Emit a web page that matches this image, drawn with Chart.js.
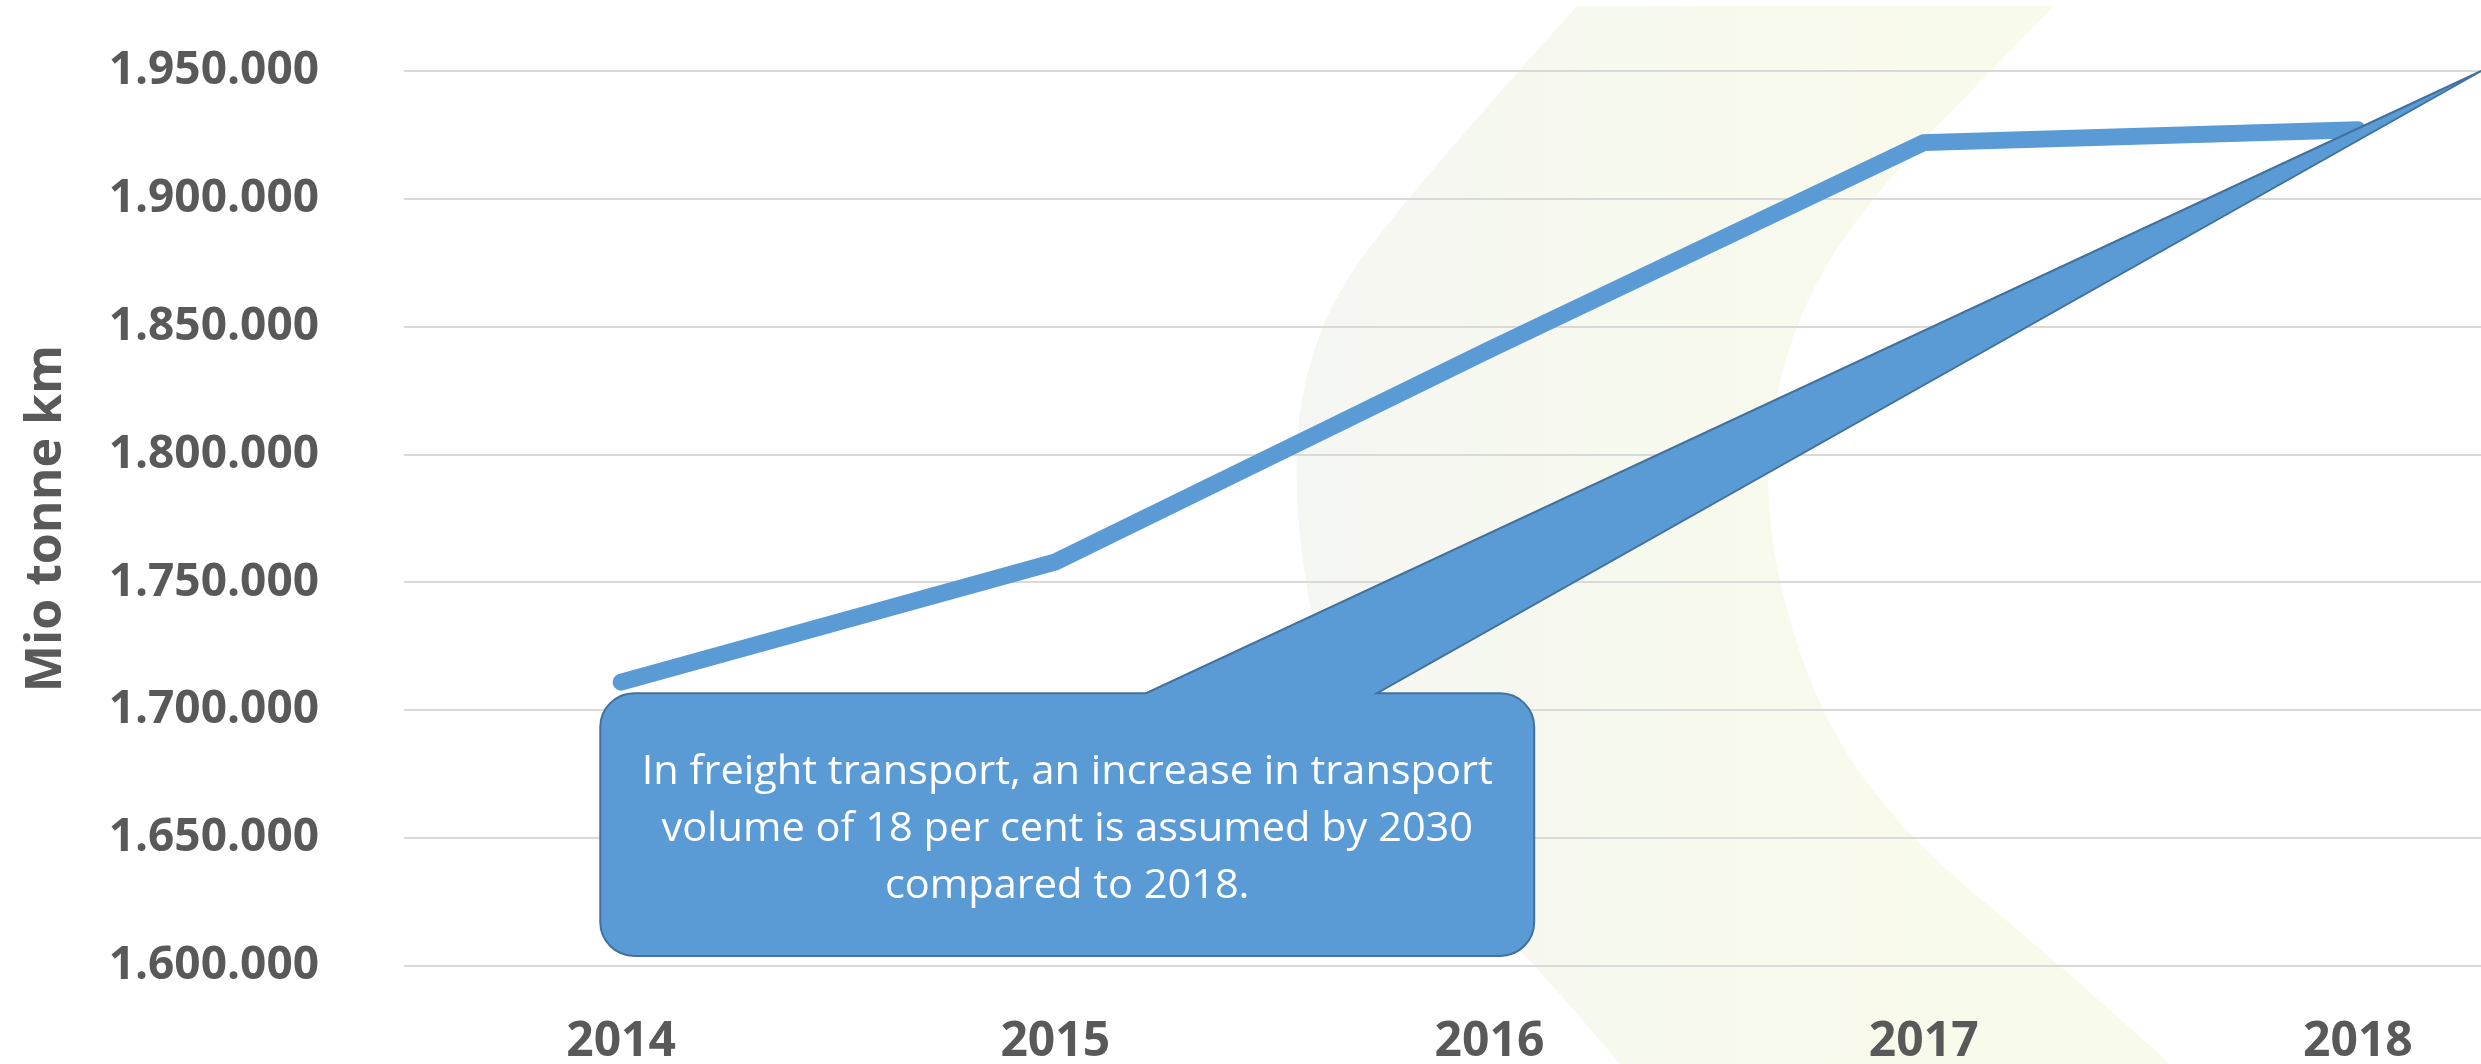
<!DOCTYPE html>
<html>
<head>
<meta charset="utf-8">
<script src="https://cdn.jsdelivr.net/npm/chart.js@4.4.1/dist/chart.umd.min.js"></script>
<style>
  html, body { margin: 0; padding: 0; background: #fff; overflow: hidden; }
  #wrap { width: 2481px; height: 1064px; overflow: hidden; position: relative; }
  #chart { display: block; }
</style>
</head>
<body>
<div id="wrap"><canvas id="chart" width="2600" height="1064"></canvas></div>
<script>
// data
var years = ['2014', '2015', '2016', '2017', '2018'];
var tonneKm = [1711000, 1758000, 1841000, 1922000, 1927000];
var yMin = 1600000;
var yMax = 1950000;
var yStep = 50000;
var yTitle = 'Mio tonne km';
var noteLines = [
    'In freight transport, an increase in transport',
    'volume of 18 per cent is assumed by 2030',
    'compared to 2018.'
];

// callout box, in axis units (category index / value)
var note = { left: -0.048, right: 2.103, top: 1706700, bottom: 1603900,
             base1: 1.209, base2: 1.741, tipX: 4.284, tipY: 1950000 };

// outline of the faint logo in the background (canvas px)
var logoOuter = [[1577, 6], [1402, 200], [1310, 333], [1289, 500], [1340, 760], [1537, 967], [1620, 1064]];
var logoInner = [[2054, 6], [1865, 200], [1787, 333], [1759, 500], [1810, 700], [1901, 833], [2063, 967], [2170, 1064]];

var grey = '#595959';
var blue = '#5B9BD5';

function fmt(v) {
    return String(v).replace(/\B(?=(\d{3})+(?!\d))/g, '.');
}

function smooth(ctx, pts, first) {
    if (first) ctx.moveTo(pts[0][0], pts[0][1]);
    else ctx.lineTo(pts[0][0], pts[0][1]);
    for (var i = 1; i < pts.length - 1; i++) {
        var mx = (pts[i][0] + pts[i + 1][0]) / 2, my = (pts[i][1] + pts[i + 1][1]) / 2;
        ctx.quadraticCurveTo(pts[i][0], pts[i][1], mx, my);
    }
    var last = pts[pts.length - 1];
    ctx.lineTo(last[0], last[1]);
}

var backdrop = {
    id: 'backdrop',
    beforeDraw: function (chart) {
        var ctx = chart.ctx;
        ctx.save();
        ctx.fillStyle = '#fff';
        ctx.fillRect(0, 0, chart.width, chart.height);
        var g = ctx.createLinearGradient(1290, 0, 1900, 0);
        g.addColorStop(0, 'rgba(242,244,238,0.8)');
        g.addColorStop(0.5, 'rgba(245,248,236,0.85)');
        g.addColorStop(1, 'rgba(247,249,232,0.85)');
        ctx.beginPath();
        smooth(ctx, logoOuter, true);
        smooth(ctx, logoInner.slice().reverse(), false);
        ctx.closePath();
        ctx.fillStyle = g;
        ctx.fill();
        ctx.restore();
    }
};

var callout = {
    id: 'callout',
    afterDatasetsDraw: function (chart) {
        var ctx = chart.ctx, xs = chart.scales.x, ys = chart.scales.y;
        var l = xs.getPixelForValue(note.left), r = xs.getPixelForValue(note.right);
        var t = ys.getPixelForValue(note.top), b = ys.getPixelForValue(note.bottom);
        var p1 = xs.getPixelForValue(note.base1), p2 = xs.getPixelForValue(note.base2);
        var tx = xs.getPixelForValue(note.tipX), ty = ys.getPixelForValue(note.tipY);
        var rad = 34;
        ctx.save();
        ctx.beginPath();
        ctx.moveTo(l + rad, t);
        ctx.lineTo(p1, t);
        ctx.lineTo(tx, ty);
        ctx.lineTo(p2, t);
        ctx.lineTo(r - rad, t);
        ctx.arcTo(r, t, r, t + rad, rad);
        ctx.lineTo(r, b - rad);
        ctx.arcTo(r, b, r - rad, b, rad);
        ctx.lineTo(l + rad, b);
        ctx.arcTo(l, b, l, b - rad, rad);
        ctx.lineTo(l, t + rad);
        ctx.arcTo(l, t, l + rad, t, rad);
        ctx.closePath();
        ctx.fillStyle = blue;
        ctx.fill();
        ctx.lineWidth = 2;
        ctx.strokeStyle = '#41719C';
        ctx.stroke();

        ctx.font = '40px "Open Sans"';
        ctx.fillStyle = '#fff';
        ctx.textAlign = 'center';
        ctx.textBaseline = 'alphabetic';
        var cx = (l + r) / 2, cy = (t + b) / 2;
        var w = ctx.measureText(noteLines[0]).width;
        var s = 851 / w;
        for (var i = 0; i < noteLines.length; i++) {
            ctx.save();
            ctx.translate(cx, cy + 16 + (i - 1) * 57);
            ctx.scale(s, 1);
            ctx.fillText(noteLines[i], 0, 0);
            ctx.restore();
        }
        ctx.restore();
    }
};

function draw() {
    var ctx = document.getElementById('chart').getContext('2d');
    new Chart(ctx, {
        type: 'line',
        data: {
            labels: years,
            datasets: [{
                label: yTitle,
                data: tonneKm,
                borderColor: blue,
                borderWidth: 17,
                borderCapStyle: 'round',
                pointRadius: 0,
                tension: 0,
                fill: false
            }]
        },
        options: {
            responsive: false,
            animation: false,
            layout: { padding: { top: 71, right: 25, bottom: 0, left: 0 } },
            plugins: {
                legend: { display: false },
                tooltip: { enabled: false }
            },
            scales: {
                x: {
                    offset: true,
                    grid: { display: false },
                    border: { display: false },
                    ticks: {
                        color: grey,
                        padding: 40,
                        font: { family: 'Open Sans', size: 48, weight: 'bold' }
                    },
                    afterFit: function (s) { s.height = 98; }
                },
                y: {
                    min: yMin,
                    max: yMax,
                    border: { display: false },
                    grid: {
                        color: '#d9d9d9',
                        lineWidth: 2,
                        drawTicks: true,
                        tickLength: 80,
                        tickColor: 'rgba(0,0,0,0)'
                    },
                    ticks: {
                        stepSize: yStep,
                        color: grey,
                        padding: 5,
                        font: { family: 'Open Sans', size: 46, weight: 'bold' },
                        callback: function (v) { return fmt(v); }
                    },
                    title: {
                        display: true,
                        text: yTitle,
                        color: grey,
                        padding: { top: 17, bottom: 0 },
                        font: { family: 'Open Sans', size: 50, weight: 'bold' }
                    },
                    afterFit: function (s) { s.width = 404; }
                }
            }
        },
        plugins: [backdrop, callout]
    });
}

if (document.fonts && document.fonts.load) {
    Promise.all([
        document.fonts.load('bold 48px "Open Sans"'),
        document.fonts.load('40px "Open Sans"')
    ]).then(draw, draw);
} else {
    draw();
}
</script>
</body>
</html>
